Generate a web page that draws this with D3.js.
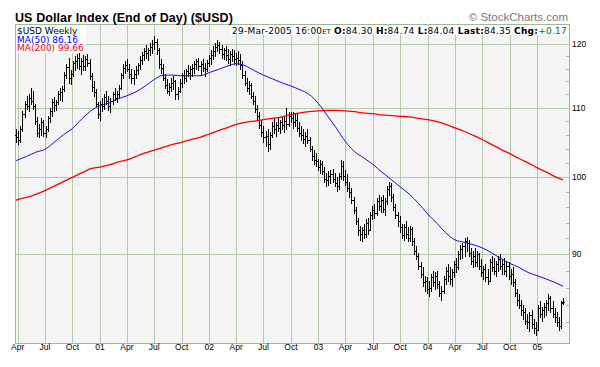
<!DOCTYPE html>
<html><head><meta charset="utf-8">
<script src="https://cdn.jsdelivr.net/npm/d3@7"></script>
<style>body{margin:0;background:#fff}svg{display:block}</style>
</head><body><svg id="c" width="600" height="367"></svg>
<script>
// ---- DATA (weekly bars, Mondays from 2000-03-27) ----
const firstWeek = "2000-03-27", lastWeek = "2005-03-28";
const open = [
106.0,105.6,105.2,106.8,109.0,110.5,110.2,111.5,111.0,110.2,108.0,106.3,106.8,107.8,106.3,106.8,108.4,109.5,110.8,110.4,110.8,112.0,112.4,112.8,115.0,116.3,114.5,115.2,116.9,117.2,117.8,116.5,117.3,116.4,117.6,117.0,114.9,113.2,112.3,110.6,
109.0,110.5,110.2,111.6,111.0,110.2,111.0,112.0,111.5,112.1,113.0,115.0,116.2,116.6,116.0,115.2,114.5,115.2,115.8,116.6,117.4,118.2,118.8,118.5,119.0,119.5,120.0,120.4,119.0,116.8,116.2,114.6,113.5,112.6,113.2,113.8,114.0,112.0,112.6,113.8,115.0,114.6,115.6,115.4,115.9,116.2,116.8,117.2,116.4,116.8,116.2,116.0,117.0,
117.8,118.2,118.9,119.5,119.8,119.2,118.4,119.0,118.2,117.6,118.4,118.0,117.6,117.8,117.4,116.6,115.0,113.8,113.0,113.4,111.8,111.0,109.8,108.8,107.4,106.4,105.6,105.8,104.6,106.0,107.2,106.8,107.4,107.0,107.8,107.4,108.0,107.6,108.8,108.4,107.8,108.2,107.0,106.2,106.0,105.4,105.8,105.2,104.0,103.0,102.4,102.2,
101.4,101.8,100.8,99.8,99.6,100.2,100.4,99.8,99.2,98.8,100.2,101.6,100.2,99.4,98.6,98.0,97.0,95.6,94.2,93.0,92.6,93.0,92.6,94.0,93.0,95.0,95.6,95.2,96.8,96.2,97.0,95.8,96.8,98.4,98.8,97.4,96.0,95.0,94.2,93.4,92.4,93.4,92.6,92.0,93.2,91.6,90.4,89.8,88.6,87.6,86.6,86.8,
85.8,86.0,87.2,86.6,87.4,86.4,85.4,85.6,87.0,88.0,87.4,87.0,87.8,88.8,88.4,90.0,90.6,91.0,91.6,91.4,90.2,89.2,89.8,89.0,90.0,88.6,87.8,88.2,87.2,86.8,89.0,88.4,88.0,88.8,89.4,88.6,88.8,88.0,88.6,87.4,87.6,86.6,85.4,84.6,84.0,83.4,83.2,82.2,82.0,82.8,81.8,81.4,
81.2,83.6,83.0,83.4,83.8,84.2,84.8,83.6,83.0,82.6,82.0,81.6,84.30];
const high = [
106.8,106.5,107.2,109.5,111.0,111.8,112.0,113.0,112.5,110.5,108.6,107.5,108.4,108.2,107.2,108.8,110.0,111.3,111.6,111.2,112.5,113.0,113.3,115.5,116.8,117.8,115.8,117.3,118.0,118.4,118.7,117.8,118.2,118.0,118.3,117.5,115.4,114.0,112.8,110.9,
111.0,111.5,112.0,112.6,111.8,111.5,112.4,113.0,112.5,113.4,115.4,116.8,117.3,117.6,116.8,116.0,115.8,116.4,117.0,118.0,118.7,119.3,119.8,119.4,120.2,120.6,121.3,120.9,119.4,117.6,116.8,115.2,114.4,113.8,114.6,114.8,114.3,113.2,114.4,115.4,115.8,116.0,116.6,116.4,116.8,117.2,117.6,117.8,117.2,117.6,117.0,117.4,118.2,
119.0,119.6,120.2,120.6,120.4,119.8,119.4,119.6,119.2,118.8,119.2,119.0,118.6,118.8,118.4,117.2,115.6,114.6,114.0,113.8,112.4,111.8,110.4,109.4,108.2,107.2,106.6,106.8,106.4,107.8,108.4,107.8,108.6,108.2,108.8,108.6,110.0,109.4,109.4,109.4,109.0,109.2,107.8,107.2,106.8,106.4,106.8,105.6,104.4,103.8,103.4,102.6,
102.4,102.2,101.4,100.6,100.8,101.0,101.2,100.6,100.0,100.6,102.4,102.2,101.0,100.4,99.4,98.6,97.4,96.0,94.6,93.6,93.4,93.8,94.4,94.6,95.4,96.2,96.4,97.2,97.6,97.4,97.6,97.2,98.8,99.4,99.2,97.8,96.4,95.4,94.8,93.8,93.8,94.2,93.4,93.6,93.4,92.0,91.0,90.2,89.0,88.4,87.4,87.2,
86.8,87.6,88.0,87.8,88.0,86.8,86.2,87.4,88.4,88.8,88.4,88.2,89.2,89.6,90.4,91.2,91.4,92.0,92.2,91.8,90.8,90.4,90.8,90.4,90.2,89.4,88.6,88.8,88.2,89.4,89.8,89.6,89.2,89.8,90.0,89.4,89.6,89.2,89.0,88.2,88.4,87.0,85.8,85.2,84.6,84.0,83.6,83.0,83.2,83.4,82.4,82.0,
84.0,84.4,83.8,84.2,84.6,85.2,85.0,84.4,83.6,83.2,82.6,84.4,84.74];
const low = [
105.0,104.6,105.0,106.5,108.6,109.8,109.5,110.5,109.8,107.5,105.8,105.6,106.0,105.8,105.7,106.5,107.8,108.8,109.5,109.6,110.5,111.2,111.0,112.5,114.5,113.8,113.6,114.8,115.8,116.2,116.0,115.2,115.8,115.8,116.4,114.4,112.6,111.8,110.2,108.4,
108.2,109.5,109.8,110.5,109.6,109.4,110.5,111.2,110.8,111.6,112.8,114.6,115.4,115.6,114.6,113.8,113.6,114.6,115.2,116.0,116.8,117.4,117.8,117.4,118.2,118.6,119.2,118.4,116.2,115.4,114.2,113.0,112.2,111.9,112.6,112.8,111.3,111.3,112.3,113.2,113.8,114.0,114.8,114.4,114.8,115.4,116.0,115.8,115.2,115.6,114.8,115.6,116.4,
116.8,117.6,118.0,118.8,118.6,117.8,117.6,117.4,117.0,116.6,117.2,116.8,116.6,116.8,116.0,114.6,113.4,112.6,112.0,111.4,110.6,109.4,108.2,107.0,105.8,104.9,104.4,103.7,104.0,105.6,106.2,105.8,106.6,106.2,106.8,106.4,106.8,107.2,107.8,107.0,107.2,106.6,105.8,105.2,104.8,104.4,104.8,103.6,102.4,101.8,101.6,101.0,
100.6,100.4,99.4,98.8,99.0,99.2,99.4,98.8,98.2,98.4,99.8,99.6,99.0,98.2,97.4,96.6,95.2,93.8,92.4,91.8,91.6,92.0,92.2,92.6,93.0,94.4,94.6,95.0,95.6,95.4,95.4,95.0,96.4,97.6,96.8,95.6,94.6,93.6,92.8,92.0,91.8,92.0,91.6,91.6,91.2,90.0,89.4,88.2,87.2,86.2,85.6,85.4,
85.0,85.6,86.2,85.8,86.0,85.0,84.6,85.4,86.4,86.8,86.4,86.2,87.2,87.8,88.2,89.4,89.6,89.8,90.4,89.8,88.8,88.4,88.6,88.6,88.2,87.4,87.0,86.8,86.4,86.8,88.0,87.6,87.4,88.0,88.2,87.6,87.6,87.4,87.0,86.4,86.2,85.0,84.0,83.6,82.8,82.4,81.8,81.4,81.0,81.4,80.8,80.6,
81.2,82.6,82.2,82.6,82.8,83.4,83.2,82.6,82.0,81.6,81.2,81.4,84.04];
const close = [
105.6,105.2,106.8,109.0,110.5,110.2,111.5,111.0,110.2,108.0,106.3,106.8,107.8,106.3,106.8,108.4,109.5,110.8,110.4,110.8,112.0,112.4,112.8,115.0,116.3,114.5,115.2,116.9,117.2,117.8,116.5,117.3,116.4,117.6,117.0,114.9,113.2,112.3,110.6,109.0,
110.5,110.2,111.6,111.0,110.2,111.0,112.0,111.5,112.1,113.0,115.0,116.2,116.6,116.0,115.2,114.5,115.2,115.8,116.6,117.4,118.2,118.8,118.5,119.0,119.5,120.0,120.4,119.0,116.8,116.2,114.6,113.5,112.6,113.2,113.8,114.0,112.0,112.6,113.8,115.0,114.6,115.6,115.4,115.9,116.2,116.8,117.2,116.4,116.8,116.2,116.0,117.0,117.8,
118.2,118.9,119.5,119.8,119.2,118.4,119.0,118.2,117.6,118.4,118.0,117.6,117.8,117.4,116.6,115.0,113.8,113.0,113.4,111.8,111.0,109.8,108.8,107.4,106.4,105.6,105.8,104.6,106.0,107.2,106.8,107.4,107.0,107.8,107.4,108.0,107.6,108.8,108.4,107.8,108.2,107.0,106.2,106.0,105.4,105.8,105.2,104.0,103.0,102.4,102.2,101.4,
101.8,100.8,99.8,99.6,100.2,100.4,99.8,99.2,98.8,100.2,101.6,100.2,99.4,98.6,98.0,97.0,95.6,94.2,93.0,92.6,93.0,92.6,94.0,93.0,95.0,95.6,95.2,96.8,96.2,97.0,95.8,96.8,98.4,98.8,97.4,96.0,95.0,94.2,93.4,92.4,93.4,92.6,92.0,93.2,91.6,90.4,89.8,88.6,87.6,86.6,86.8,85.8,
86.0,87.2,86.6,87.4,86.4,85.4,85.6,87.0,88.0,87.4,87.0,87.8,88.8,88.4,90.0,90.6,91.0,91.6,91.4,90.2,89.2,89.8,89.0,90.0,88.6,87.8,88.2,87.2,86.8,89.0,88.4,88.0,88.8,89.4,88.6,88.8,88.0,88.6,87.4,87.6,86.6,85.4,84.6,84.0,83.4,83.2,82.2,82.0,82.8,81.8,81.4,81.2,
83.6,83.0,83.4,83.8,84.2,84.8,83.6,83.0,82.6,82.0,81.6,84.18,84.35];

// moving averages read at month starts (plus first/last bar dates)
const ma50 = [102.3,
102.4,102.9,103.5,103.9,104.9,106.0,106.9,108.3,109.5,
110.3,110.7,111.3,111.8,112.4,113.3,114.3,115.0,115.0,114.9,114.9,114.9,
115.4,115.9,116.4,116.8,116.5,115.7,115.0,114.4,113.8,113.3,112.7,112.0,
110.6,108.7,107.0,105.0,103.6,102.7,101.8,100.7,99.7,98.7,97.7,96.5,
95.1,93.9,92.7,91.8,91.5,91.2,90.8,90.2,89.5,88.9,88.4,87.8,
87.4,87.0,86.6,
86.16];
const ma200 = [96.9,
97.0,97.3,97.7,98.2,98.8,99.4,100.0,100.6,101.2,
101.4,101.7,102.1,102.4,102.9,103.4,103.8,104.2,104.6,104.9,105.3,105.6,
106.1,106.6,107.0,107.5,107.8,108.0,108.2,108.4,108.6,109.0,109.2,109.4,
109.5,109.6,109.6,109.5,109.4,109.2,109.1,108.9,108.8,108.7,108.6,108.4,
108.2,107.9,107.5,107.0,106.5,105.9,105.3,104.6,103.9,103.3,102.6,102.0,
101.3,100.7,100.1,
99.66];

const xTickLabels = ["Apr","Jul","Oct","01","Apr","Jul","Oct","02","Apr","Jul","Oct","03","Apr","Jul","Oct","04","Apr","Jul","Oct","05"];
const yMajor = [90,100,110,120];
const yMinor = [82,84,86,88,92,94,96,98,102,104,106,108,112,114,116,118];

// ---- LAYOUT ----
const L = 15, R = 569, T = 24.5, B = 343, PT = 36;
const GRID = "#b2c9aa", FRAME = "#9fb898", BG = "#f4f4f4";
const svg = d3.select("#c");

const parse = d3.utcParse("%Y-%m-%d");
const weeks = d3.utcMonday.range(parse(firstWeek), d3.utcDay.offset(parse(lastWeek), 1)).slice(0, close.length);
const bars = weeks.map((d, i) => ({date: d, o: open[i], h: high[i], l: low[i], c: close[i]}));

const maDates = [parse(firstWeek)].concat(d3.utcMonth.range(parse("2000-04-01"), parse("2005-04-01")), [parse(lastWeek)]);

const x = d3.scaleUtc().domain([parse("2000-03-23"), parse("2005-04-17")]).range([L, R]);
const y = d3.scaleLog().domain([79.72, 121.32]).range([B, PT]);

// background frame
svg.append("rect").attr("x", L + 0.5).attr("y", T).attr("width", R - L - 0.5).attr("height", B - T)
  .attr("fill", BG).attr("stroke", "none");

// vertical grid at quarters
const qDates = d3.utcMonth.every(3).range(parse("2000-04-01"), parse("2005-01-02"));
svg.append("g").selectAll("line").data(qDates).join("line")
  .attr("x1", d => Math.round(x(d)) + 0.5).attr("x2", d => Math.round(x(d)) + 0.5)
  .attr("y1", T).attr("y2", B).attr("stroke", GRID).attr("stroke-width", 1).attr("shape-rendering", "crispEdges");

// horizontal grid
svg.append("g").selectAll("line").data(yMajor).join("line")
  .attr("x1", L).attr("x2", R).attr("y1", d => Math.round(y(d)) + 0.5).attr("y2", d => Math.round(y(d)) + 0.5)
  .attr("stroke", GRID).attr("shape-rendering", "crispEdges");

// minor ticks at right edge
svg.append("g").selectAll("line").data(yMinor).join("line")
  .attr("x1", R - 3).attr("x2", R).attr("y1", d => Math.round(y(d)) + 0.5).attr("y2", d => Math.round(y(d)) + 0.5)
  .attr("stroke", FRAME).attr("shape-rendering", "crispEdges");

// frame
svg.append("rect").attr("x", L + 0.5).attr("y", T).attr("width", R - L - 0.5).attr("height", B - T)
  .attr("fill", "none").attr("stroke", FRAME).attr("shape-rendering", "crispEdges");

// OHLC bars
const gb = svg.append("g").attr("stroke", "#000").attr("stroke-width", 1).attr("shape-rendering", "crispEdges");
bars.forEach(b => {
  const xi = Math.round(x(b.date)) + 0.5;
  gb.append("line").attr("x1", xi).attr("x2", xi).attr("y1", Math.round(y(b.h))).attr("y2", Math.round(y(b.l)) + 1);
  const yo = Math.round(y(b.o)) + 0.5, yc = Math.round(y(b.c)) + 0.5;
  gb.append("line").attr("x1", xi - 1.5).attr("x2", xi).attr("y1", yo).attr("y2", yo);
  gb.append("line").attr("x1", xi).attr("x2", xi + 1.5).attr("y1", yc).attr("y2", yc);
});

// moving averages
const line = d3.line().x(d => x(d[0])).y(d => y(d[1])).curve(d3.curveMonotoneX);
svg.append("path").datum(maDates.map((d, i) => [d, ma200[i]])).attr("d", line)
  .attr("fill", "none").attr("stroke", "#ff0000").attr("stroke-width", 1.3);
svg.append("path").datum(maDates.map((d, i) => [d, ma50[i]])).attr("d", line)
  .attr("fill", "none").attr("stroke", "#1010e0").attr("stroke-width", 1);

// x labels
svg.append("g").selectAll("text").data(qDates).join("text")
  .attr("x", d => x(d)).attr("y", 350).attr("text-anchor", "middle")
  .attr("font-family", "Liberation Sans, Arial, sans-serif").attr("font-size", 8.5).attr("fill", "#000")
  .text((d, i) => xTickLabels[i]);

// y labels
svg.append("g").selectAll("text").data(yMajor).join("text")
  .attr("x", 572).attr("y", d => y(d) + 3).attr("text-anchor", "start")
  .attr("font-family", "Liberation Sans, Arial, sans-serif").attr("font-size", 8.5).attr("fill", "#000")
  .text(d => d);

function fitWidth(sel, target) {
  const len = sel.node().getComputedTextLength();
  const n = sel.node().textContent.length;
  sel.attr("letter-spacing", ((target - len) / n).toFixed(3));
}

// title
const title = svg.append("text").attr("x", 15).attr("y", 22)
  .attr("font-family", "Liberation Sans, Arial, sans-serif").attr("font-weight", "bold").attr("font-size", 12.5)
  .attr("fill", "#000").text("US Dollar Index (End of Day) ($USD)");
fitWidth(title, 218);
const sc = svg.append("text").attr("x", 568).attr("y", 21).attr("text-anchor", "end")
  .attr("font-family", "Liberation Sans, Arial, sans-serif").attr("font-size", 11.5)
  .attr("fill", "#7a7a7a").text("\u00a9 StockCharts.com");

// legend box
const F = "DejaVu Sans, Verdana, sans-serif";
svg.append("rect").attr("x", 16).attr("y", 25).attr("width", 70).attr("height", 28).attr("fill", "#fff");
svg.append("text").attr("x", 17).attr("y", 33.5).attr("font-family", F).attr("font-size", 9).text("$USD Weekly");
svg.append("text").attr("x", 17).attr("y", 42.5).attr("font-family", F).attr("font-size", 9).attr("fill", "#0000ff").text("MA(50) 86.16");
svg.append("text").attr("x", 17).attr("y", 51.3).attr("font-family", F).attr("font-size", 9).attr("fill", "#ff0000").text("MA(200) 99.66");

// header right
const hdrBg = svg.append("rect").attr("fill", "#fff");
const hdr = svg.append("text").attr("x", 567).attr("y", 33.5).attr("text-anchor", "end")
  .attr("font-family", F).attr("font-size", 9).attr("fill", "#000");
const parts = [["29-Mar-2005 16:00", null], ["ET", "small"], [" ", null], ["O:", "b"], ["84.30 ", null], ["H:", "b"], ["84.74 ", null],
  ["L:", "b"], ["84.04 ", null], ["Last:", "b"], ["84.35 ", null], ["Chg:", "b"], ["+0.17", "g"]];
parts.forEach(([t, s]) => {
  const ts = hdr.append("tspan").text(t);
  if (s === "b") ts.attr("font-weight", "bold");
  if (s === "small") ts.attr("font-size", 6.5);
  if (s === "g") ts.attr("fill", "#007a00");
});
fitWidth(hdr, 335);
const bb = hdr.node().getBBox();
hdrBg.attr("x", bb.x - 2).attr("y", 25).attr("width", bb.width + 3).attr("height", 10);
</script></body></html>
